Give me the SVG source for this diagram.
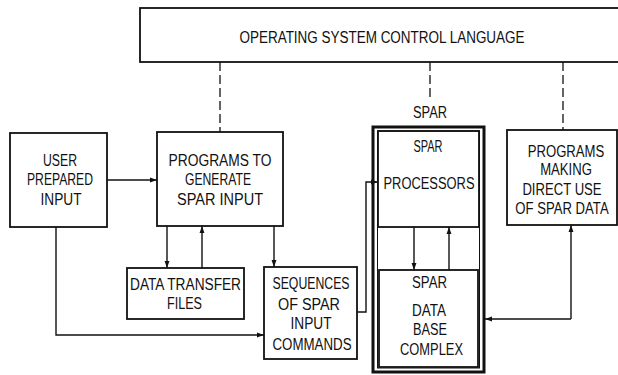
<svg xmlns="http://www.w3.org/2000/svg" width="618" height="375" viewBox="0 0 618 375">
<style>
.box{fill:none;stroke:#111;stroke-width:1.8}
.ln{fill:none;stroke:#111;stroke-width:1.4}
.dash{fill:none;stroke:#111;stroke-width:1.3;stroke-dasharray:9 4}
text{font-family:"Liberation Sans",Arial,sans-serif;font-size:16px;fill:#111;text-anchor:middle}
</style>
<defs>
<marker id="ah" viewBox="0 0 10 8" refX="10" refY="4" markerWidth="7" markerHeight="5.6" markerUnits="userSpaceOnUse" orient="auto">
<path d="M0,0.5 L10,4 L0,7.5 z" fill="#111"/>
</marker>
</defs>
<rect width="618" height="375" fill="#fff"/>
<g id="oscl">
<rect class="box" x="140" y="8" width="490" height="54"/>
<text x="382" y="43" textLength="285" lengthAdjust="spacingAndGlyphs">OPERATING SYSTEM CONTROL LANGUAGE</text>
</g>
<g id="user">
<rect class="box" x="10" y="133" width="97" height="94"/>
<text x="60" y="166" textLength="34" lengthAdjust="spacingAndGlyphs">USER</text>
<text x="60" y="185" textLength="66" lengthAdjust="spacingAndGlyphs">PREPARED</text>
<text x="61" y="205" textLength="41" lengthAdjust="spacingAndGlyphs">INPUT</text>
</g>
<g id="generate">
<rect class="box" x="157" y="132" width="126" height="94"/>
<text x="220" y="166" textLength="103" lengthAdjust="spacingAndGlyphs">PROGRAMS TO</text>
<text x="218" y="185" textLength="66" lengthAdjust="spacingAndGlyphs">GENERATE</text>
<text x="220" y="205" textLength="86" lengthAdjust="spacingAndGlyphs">SPAR INPUT</text>
</g>
<g id="datatransfer">
<rect class="box" x="127" y="268" width="117" height="51"/>
<text x="185.5" y="290" textLength="111" lengthAdjust="spacingAndGlyphs">DATA TRANSFER</text>
<text x="184.5" y="309" textLength="35" lengthAdjust="spacingAndGlyphs">FILES</text>
</g>
<g id="sequences">
<rect class="box" x="264" y="267" width="93" height="92"/>
<text x="311" y="289" textLength="77" lengthAdjust="spacingAndGlyphs">SEQUENCES</text>
<text x="309" y="310" textLength="62" lengthAdjust="spacingAndGlyphs">OF SPAR</text>
<text x="311" y="329" textLength="41" lengthAdjust="spacingAndGlyphs">INPUT</text>
<text x="312" y="350" textLength="79" lengthAdjust="spacingAndGlyphs">COMMANDS</text>
</g>
<g id="spar">
<text x="430" y="118" textLength="34" lengthAdjust="spacingAndGlyphs">SPAR</text>
<rect x="373" y="127" width="111" height="245" fill="none" stroke="#111" stroke-width="3"/>
<rect x="377.5" y="131" width="102" height="237" fill="none" stroke="#111" stroke-width="1"/>
</g>
<g id="processors">
<rect class="box" x="378" y="131" width="101" height="96"/>
<text x="428" y="152" textLength="29" lengthAdjust="spacingAndGlyphs">SPAR</text>
<text x="429" y="189" textLength="91" lengthAdjust="spacingAndGlyphs">PROCESSORS</text>
</g>
<g id="database">
<rect class="box" x="379" y="270" width="99" height="97"/>
<text x="429.5" y="288" textLength="35" lengthAdjust="spacingAndGlyphs">SPAR</text>
<text x="429" y="316" textLength="34" lengthAdjust="spacingAndGlyphs">DATA</text>
<text x="430" y="335" textLength="34" lengthAdjust="spacingAndGlyphs">BASE</text>
<text x="431.5" y="355" textLength="63" lengthAdjust="spacingAndGlyphs">COMPLEX</text>
</g>
<g id="direct">
<rect class="box" x="507" y="130" width="110" height="95"/>
<text transform="translate(566,157) scale(0.82,1)" x="0" y="0">PROGRAMS</text>
<text transform="translate(566,175) scale(0.82,1)" x="0" y="0">MAKING</text>
<text transform="translate(562,195) scale(0.82,1)" x="0" y="0">DIRECT USE</text>
<text transform="translate(562,214) scale(0.82,1)" x="0" y="0" font-size="15">OF SPAR DATA</text>
</g>
<g id="connectors">
<line class="dash" x1="220" y1="62" x2="220" y2="132"/>
<line class="dash" x1="430" y1="62" x2="430" y2="98"/>
<line class="dash" x1="563" y1="62" x2="563" y2="130"/>
<line class="ln" x1="107" y1="180" x2="157" y2="180" marker-end="url(#ah)"/>
<line class="ln" x1="167" y1="226" x2="167" y2="268" marker-end="url(#ah)"/>
<line class="ln" x1="202" y1="268" x2="202" y2="226" marker-end="url(#ah)"/>
<line class="ln" x1="274" y1="226" x2="274" y2="267" marker-end="url(#ah)"/>
<polyline class="ln" points="56,227 56,335 264,335" marker-end="url(#ah)"/>
<polyline class="ln" points="357,312 366,312 366,182 378,182" marker-end="url(#ah)"/>
<line class="ln" x1="414" y1="227" x2="414" y2="270" marker-end="url(#ah)"/>
<line class="ln" x1="449" y1="270" x2="449" y2="227" marker-end="url(#ah)"/>
<line class="ln" x1="571" y1="319" x2="571" y2="225" marker-end="url(#ah)"/>
<line class="ln" x1="571" y1="319" x2="485" y2="319" marker-end="url(#ah)"/>
</g>
</svg>
